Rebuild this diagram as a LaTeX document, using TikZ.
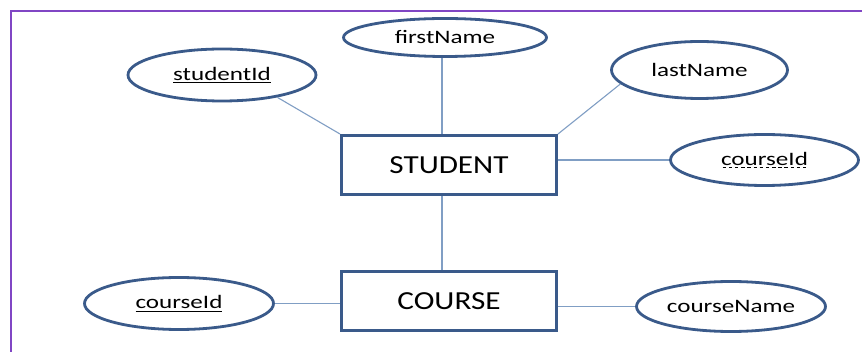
\documentclass[tikz,border=0pt]{standalone}
\usepackage{fontspec}
\setmainfont{Carlito}
\usetikzlibrary{shapes.geometric}

\definecolor{frameviolet}{RGB}{128,70,196}
\definecolor{shapeblue}{RGB}{58,90,138}
\definecolor{linkblue}{RGB}{128,158,196}

\newcommand{\enttext}[1]{\scalebox{1.2}[1]{\fontsize{26}{26}\selectfont #1}}
\newcommand{\atttext}[1]{\scalebox{1.32}[1]{\fontsize{19}{19}\selectfont #1}}
% solid and dashed underlines for key attributes
\newcommand{\keyline}[1]{\setbox0\hbox{#1}\leavevmode
  \rlap{\raisebox{-3pt}{\rule{\wd0}{0.9pt}}}\box0}
\newcommand{\dashkeyline}[1]{\setbox0\hbox{#1}\leavevmode
  \rlap{\raisebox{-3pt}{\hbox to \wd0{\xleaders\hbox to 4.5pt{\hss\rule{2.6pt}{0.9pt}\hss}\hfill}}}\box0}

\tikzset{
  entity/.style={draw=shapeblue, line width=3pt, rectangle, inner sep=0pt,
    minimum width=215pt, minimum height=59pt, fill=white},
  attribute/.style={draw=shapeblue, line width=2.8pt, ellipse, inner sep=0pt, fill=white},
  link/.style={draw=linkblue, line width=1.1pt},
  frame/.style={draw=frameviolet, line width=2pt}
}

\begin{document}
\begin{tikzpicture}[x=1pt, y=-1pt]
  \useasboundingbox (0,0) rectangle (862,352);
  \fill[white] (0,0) rectangle (862,352);
  \begin{scope}
    \clip (0,0) rectangle (862,352);
    \draw[frame] (11,360) -- (11,11) -- (870,11);
  \end{scope}

  % entities
  \node[entity] (stu) at (449,165) {\enttext{STUDENT}};
  \node[entity] (crs) at (449,301) {\enttext{COURSE}};

  % attributes
  \node[attribute, minimum width=188pt, minimum height=52pt] (sid) at (222,75)
    {\atttext{\keyline{studentId}}};
  \node[attribute, minimum width=203pt, minimum height=38pt] (fn) at (445,37.5)
    {\atttext{firstName}};
  \node[attribute, minimum width=176pt, minimum height=57pt] (ln) at (699.5,70)
    {\atttext{lastName}};
  \node[attribute, minimum width=188pt, minimum height=51pt] (cidr) at (764.5,160)
    {\atttext{\dashkeyline{courseId}}};
  \node[attribute, minimum width=189pt, minimum height=52pt] (cidl) at (179,303.5)
    {\atttext{\keyline{courseId}}};
  \node[attribute, minimum width=189pt, minimum height=50pt] (cn) at (731,306.5)
    {\atttext{courseName}};

  % connectors
  \draw[link] (sid.338) -- (stu.north west);
  \draw[link] ([xshift=-3pt]fn.south) -- ([xshift=-3pt]fn.south |- stu.north);
  \draw[link] (ln.190) -- (stu.north east);
  \draw[link] (cidr.west) -- (cidr.west -| stu.east);
  \draw[link] ([xshift=-7pt]stu.south) -- ([xshift=-7pt]crs.north);
  \draw[link] (cidl.east) -- (cidl.east -| crs.west);
  \draw[link] (cn.west) -- (cn.west -| crs.east);
\end{tikzpicture}
\end{document}
